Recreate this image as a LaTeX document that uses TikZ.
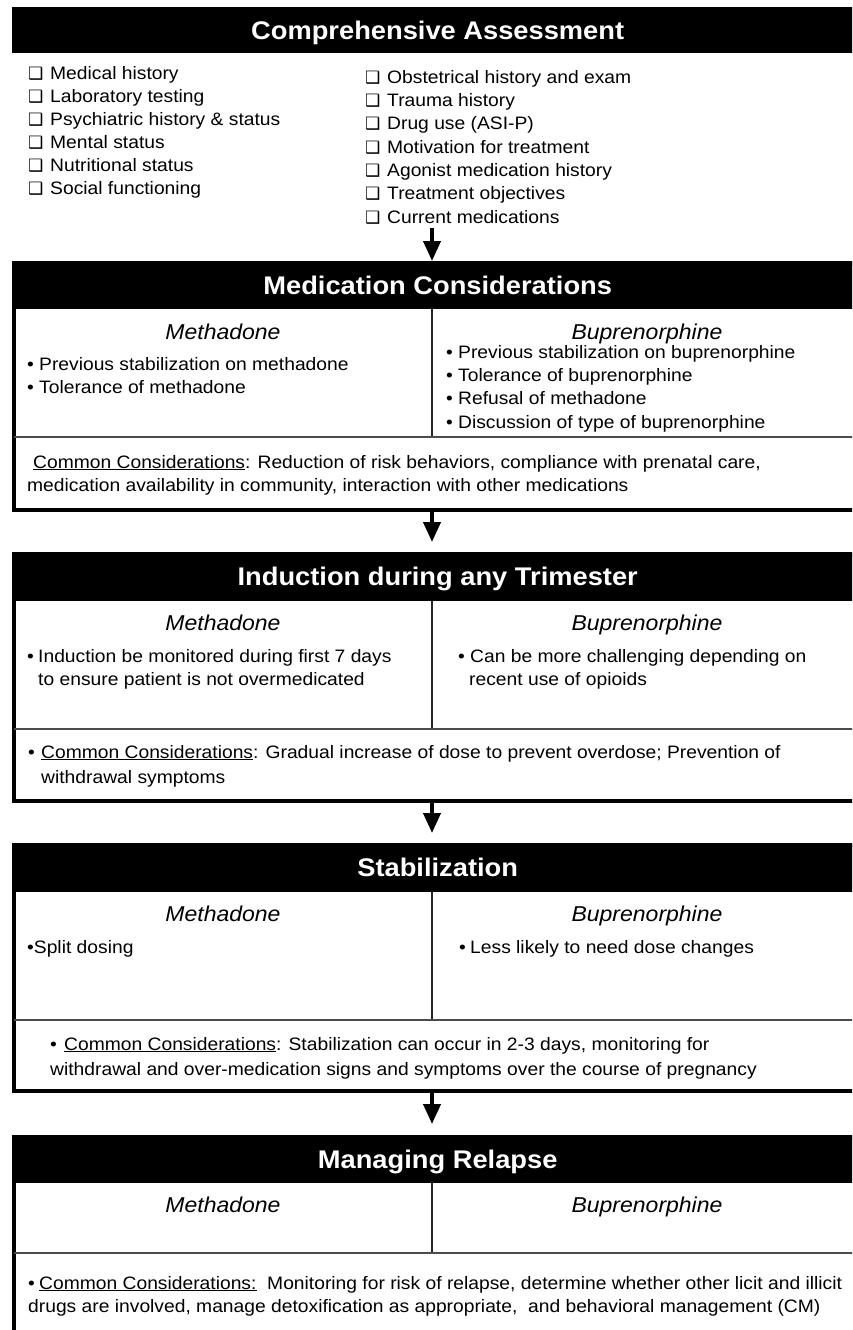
\documentclass[tikz,border=0pt]{standalone}
\usepackage{fontspec}
\setmainfont{Liberation Sans}[FakeStretch=1.07]
\newfontfamily\boxfont{DejaVu Sans}
\usetikzlibrary{arrows.meta}
\begin{document}
\begin{tikzpicture}[x=1pt,y=-1pt,
  frame/.style={draw=black, line width=4pt, rectangle, inner sep=0pt, minimum width=851pt, anchor=north west},
  hdr/.style={fill=black, text=white, inner sep=0pt, minimum width=851pt, anchor=north west,
    font=\fontsize{25.5}{30}\selectfont\bfseries, text height=18.3pt, text depth=0pt},
  body/.style={inner sep=0pt, anchor=base west, font=\fontsize{18}{22}\selectfont},
  lbl/.style={inner sep=0pt, anchor=base, font=\fontsize{21.5}{26}\selectfont\itshape},
  sepline/.style={draw=black!70, line width=2pt},
  divline/.style={draw=black!85, line width=1.5pt},
  arr/.style={line width=4pt, -{Triangle[width=17pt,length=20pt]}}
]
\useasboundingbox (0,0) rectangle (852,1330);
\clip (0,0) rectangle (852,1330);
\newcommand{\cb}[1]{\makebox[22pt][l]{\boxfont\fontsize{17}{20}\selectfont ❑}#1}
\newcommand{\bl}[2]{\makebox[#1pt][l]{•}#2}

% ---------- Box 1 ----------
\node[hdr, minimum height=46pt] (h1) at (12,7) {Comprehensive Assessment};
\node[body] (l1) at (28,79) {\cb{Medical history}};
\node[body] (l2) at (28,102) {\cb{Laboratory testing}};
\node[body] (l3) at (28,125) {\cb{Psychiatric history \& status}};
\node[body] (l4) at (28,148) {\cb{Mental status}};
\node[body] (l5) at (28,171) {\cb{Nutritional status}};
\node[body] (l6) at (28,194) {\cb{Social functioning}};
\node[body] (r1) at (365,83) {\cb{Obstetrical history and exam}};
\node[body] (r2) at (365,106.3) {\cb{Trauma history}};
\node[body] (r3) at (365,129.7) {\cb{Drug use (ASI-P)}};
\node[body] (r4) at (365,153) {\cb{Motivation for treatment}};
\node[body] (r5) at (365,176.3) {\cb{Agonist medication history}};
\node[body] (r6) at (365,199.7) {\cb{Treatment objectives}};
\node[body] (r7) at (365,223) {\cb{Current medications}};

% ---------- Box 2 ----------
\node[frame, minimum height=246pt] (f2) at (12,262) {};
\node[hdr, minimum height=48pt] (h2) at (12,261) {Medication Considerations};
\draw[divline] (432,309) -- (432,437);
\draw[sepline] (14,437) -- (861,437);
\node[lbl] (m2) at (223,339) {Methadone};
\node[lbl] (b2) at (647,339) {Buprenorphine};
\node[body] (m2a) at (27,370) {\bl{12}{Previous stabilization on methadone}};
\node[body] (m2b) at (27,393) {\bl{12}{Tolerance of methadone}};
\node[body] (b2a) at (446,358) {\bl{12}{Previous stabilization on buprenorphine}};
\node[body] (b2b) at (446,381.3) {\bl{12}{Tolerance of buprenorphine}};
\node[body] (b2c) at (446,404.7) {\bl{12}{Refusal of methadone}};
\node[body] (b2d) at (446,428) {\bl{12}{Discussion of type of buprenorphine}};
\node[body] (c2a) at (33,468) {\underline{Common Considerations}: Reduction of risk behaviors, compliance with prenatal care,};
\node[body] (c2b) at (27,491) {medication availability in community, interaction with other medications};

% ---------- Box 3 ----------
\node[frame, minimum height=246pt] (f3) at (12,553) {};
\node[hdr, minimum height=49pt] (h3) at (12,552) {Induction during any Trimester};
\draw[divline] (432,601) -- (432,729);
\draw[sepline] (14,729) -- (861,729);
\node[lbl] (m3) at (223,630) {Methadone};
\node[lbl] (b3) at (647,630) {Buprenorphine};
\node[body] (m3a) at (27,662) {\bl{11}{Induction be monitored during first 7 days}};
\node[body] (m3b) at (38,685) {to ensure patient is not overmedicated};
\node[body] (b3a) at (458,662) {\bl{12}{Can be more challenging depending on}};
\node[body] (b3b) at (469,685) {recent use of opioids};
\node[body] (c3a) at (28,758) {\bl{13}{\underline{Common Considerations}: Gradual increase of dose to prevent overdose; Prevention of}};
\node[body] (c3b) at (41,783) {withdrawal symptoms};

% ---------- Box 4 ----------
\node[frame, minimum height=245pt] (f4) at (12,844) {};
\node[hdr, minimum height=49pt] (h4) at (12,843) {Stabilization};
\draw[divline] (432,892) -- (432,1020);
\draw[sepline] (14,1020) -- (861,1020);
\node[lbl] (m4) at (223,921) {Methadone};
\node[lbl] (b4) at (647,921) {Buprenorphine};
\node[body] (m4a) at (27,953) {•Split dosing};
\node[body] (b4a) at (459,953) {\bl{11}{Less likely to need dose changes}};
\node[body] (c4a) at (50,1050) {\bl{14}{\underline{Common Considerations}: Stabilization can occur in 2-3 days, monitoring for}};
\node[body] (c4b) at (50,1075) {withdrawal and over-medication signs and symptoms over the course of pregnancy};

% ---------- Box 5 ----------
\node[frame, minimum height=209pt] (f5) at (12,1136) {};
\node[hdr, minimum height=48pt] (h5) at (12,1135) {Managing Relapse};
\draw[divline] (432,1183) -- (432,1253);
\draw[sepline] (14,1253) -- (861,1253);
\node[lbl] (m5) at (223,1212) {Methadone};
\node[lbl] (b5) at (647,1212) {Buprenorphine};
\node[body] (c5a) at (28,1289) {\bl{11}{\underline{Common Considerations:}\ \ Monitoring for risk of relapse, determine whether other licit and illicit}};
\node[body] (c5b) at (28,1312) {drugs are involved, manage detoxification as appropriate,\ \ and behavioral management (CM)};

% ---------- Arrows ----------
\coordinate (a1) at (432,228);
\draw[arr] (a1) -- (a1 |- h2.north);
\draw[arr, shorten >=10pt] (f2.south -| a1) -- (a1 |- h3.north);
\draw[arr, shorten >=10pt] (f3.south -| a1) -- (a1 |- h4.north);
\draw[arr, shorten >=11pt] (f4.south -| a1) -- (a1 |- h5.north);
\end{tikzpicture}
\end{document}
